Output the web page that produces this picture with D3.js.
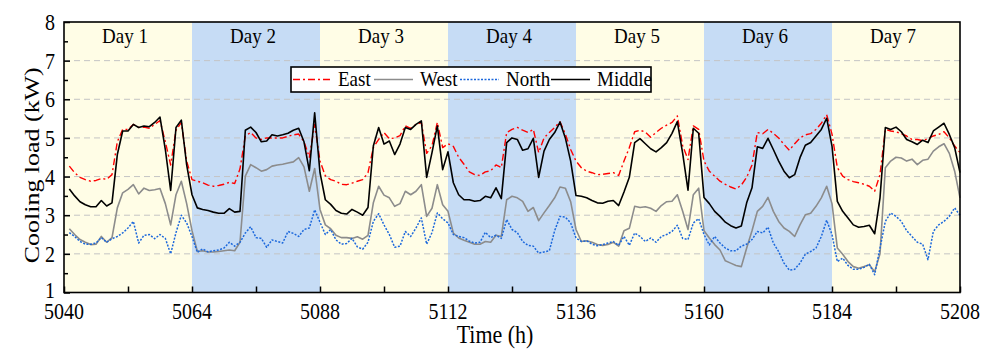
<!DOCTYPE html>
<html>
<head>
<meta charset="utf-8">
<script src="https://cdn.jsdelivr.net/npm/d3@7"></script>
<style>
  body { margin: 0; background: #fff; }
  svg text { fill: #000; }
</style>
</head>
<body>
<figure id="chart" style="margin:0"></figure>
<script>
// hourly cooling load, 5041 .. 5208 (h)
const east = [
  4.27,4.10,3.98,3.92,3.88,3.90,3.95,3.93,4.05,4.90,5.22,5.22,
  5.35,5.27,5.28,5.25,5.35,5.45,4.90,4.30,5.20,5.40,4.40,3.92,
  3.88,3.84,3.78,3.75,3.77,3.80,3.85,3.82,4.20,5.05,5.14,5.00,
  4.96,5.00,5.00,5.00,5.00,5.04,5.08,5.10,4.90,4.50,5.35,4.40,
  4.02,3.92,3.88,3.80,3.79,3.83,3.88,3.92,4.10,4.75,4.96,5.14,
  4.98,5.00,5.06,5.31,5.25,5.35,5.40,4.60,4.80,5.40,4.75,4.85,
  4.78,4.50,4.32,4.12,4.05,4.03,4.12,4.15,4.30,4.23,5.14,5.22,
  5.27,5.20,5.14,5.22,4.62,5.00,5.14,5.27,5.42,5.10,4.70,4.40,
  4.23,4.14,4.10,4.05,4.06,4.08,4.10,4.03,4.40,4.75,5.16,5.20,
  5.15,5.02,5.14,5.25,5.33,5.40,5.57,4.80,4.44,5.31,5.22,4.40,
  4.14,4.01,3.88,3.80,3.73,3.68,3.78,3.98,4.30,5.14,5.11,5.22,
  5.12,5.00,4.83,4.68,4.85,5.00,5.08,5.11,5.22,5.38,5.60,5.10,
  4.23,4.01,3.92,3.87,3.84,3.80,3.75,3.62,4.05,5.22,5.18,5.16,
  5.11,5.05,4.96,4.96,4.93,4.98,5.05,5.09,5.16,5.00,4.79,4.62
];
const west = [
  2.65,2.50,2.37,2.30,2.24,2.25,2.45,2.30,2.42,3.19,3.58,3.67,
  3.79,3.55,3.70,3.64,3.66,3.69,3.30,2.75,3.53,3.88,3.30,2.60,
  2.06,2.08,2.05,2.05,2.06,2.08,2.10,2.08,2.30,4.01,4.31,4.23,
  4.14,4.18,4.27,4.30,4.32,4.35,4.38,4.49,4.25,3.62,4.21,3.15,
  2.75,2.65,2.48,2.42,2.42,2.40,2.44,2.38,2.48,3.32,3.75,3.52,
  3.45,3.23,3.30,3.62,3.53,3.62,3.79,2.97,3.18,3.79,3.27,3.10,
  2.54,2.41,2.35,2.30,2.25,2.25,2.32,2.30,2.48,2.45,3.40,3.49,
  3.45,3.36,3.10,3.20,2.86,3.06,3.25,3.45,3.73,3.70,3.35,2.63,
  2.32,2.34,2.30,2.24,2.22,2.24,2.30,2.20,2.60,2.66,3.23,3.20,
  3.22,3.18,3.10,3.25,3.35,3.36,3.53,3.10,2.63,3.53,3.70,2.60,
  2.41,2.24,2.10,1.82,1.76,1.70,1.67,2.15,2.60,3.10,3.23,3.46,
  3.10,2.84,2.67,2.58,2.45,2.75,3.01,3.05,3.23,3.45,3.75,3.30,
  2.15,1.99,1.80,1.67,1.63,1.67,1.72,1.54,2.00,4.23,4.40,4.50,
  4.48,4.40,4.45,4.31,4.42,4.45,4.66,4.77,4.85,4.60,4.14,3.45
];
const north = [
  2.55,2.45,2.32,2.25,2.25,2.28,2.42,2.30,2.39,2.45,2.54,2.67,
  2.84,2.28,2.48,2.50,2.39,2.50,2.40,2.00,2.55,3.00,2.80,2.45,
  2.04,2.13,2.05,2.08,2.10,2.15,2.30,2.20,2.30,2.54,2.70,2.42,
  2.40,2.17,2.36,2.32,2.28,2.58,2.53,2.45,2.63,2.67,3.14,2.82,
  2.50,2.63,2.36,2.25,2.27,2.40,2.18,2.12,2.30,2.84,3.04,2.75,
  2.50,2.17,2.20,2.58,2.45,2.67,2.93,2.25,2.55,3.06,2.91,2.80,
  2.50,2.45,2.42,2.33,2.28,2.30,2.56,2.42,2.48,2.40,2.89,2.63,
  2.55,2.32,2.22,2.20,2.02,2.05,2.08,2.60,2.97,2.95,2.80,2.41,
  2.32,2.34,2.25,2.21,2.24,2.28,2.32,2.22,2.45,2.22,2.54,2.45,
  2.32,2.41,2.30,2.45,2.50,2.58,2.74,2.40,2.37,2.80,2.91,2.50,
  2.23,2.45,2.28,2.15,2.08,2.08,2.20,2.25,2.37,2.58,2.54,2.69,
  2.28,2.06,1.76,1.58,1.60,1.76,1.99,2.06,2.15,2.45,2.87,2.50,
  1.80,1.89,1.70,1.60,1.60,1.65,1.73,1.46,2.15,2.84,3.06,2.97,
  2.84,2.60,2.45,2.30,2.25,1.85,2.58,2.75,2.84,2.97,3.19,3.00
];
const middle = [
  3.68,3.50,3.35,3.27,3.22,3.22,3.38,3.24,3.32,4.57,5.18,5.18,
  5.35,5.27,5.31,5.29,5.40,5.54,4.70,3.64,5.27,5.46,4.30,3.53,
  3.19,3.15,3.12,3.08,3.05,3.05,3.17,3.08,3.10,5.20,5.28,5.14,
  4.90,4.92,5.08,5.05,5.08,5.12,5.20,5.25,4.90,4.15,5.65,4.10,
  3.40,3.28,3.12,3.05,3.03,3.15,3.08,3.00,3.20,4.79,5.27,4.84,
  4.92,4.57,4.84,5.27,5.22,5.35,5.44,3.98,4.62,5.31,4.18,4.64,
  3.84,3.53,3.40,3.40,3.36,3.38,3.49,3.45,3.71,3.43,4.88,5.00,
  4.96,4.68,4.72,4.99,3.98,4.66,4.96,5.14,5.41,5.00,4.40,3.51,
  3.49,3.45,3.38,3.32,3.31,3.36,3.38,3.25,3.60,3.98,4.88,4.98,
  4.85,4.72,4.64,4.75,4.88,5.12,5.42,4.60,3.65,5.25,5.12,3.46,
  3.30,3.10,2.97,2.82,2.73,2.67,2.72,3.32,3.71,4.77,4.73,4.99,
  4.70,4.40,4.14,3.97,4.05,4.49,4.81,4.88,5.05,5.22,5.51,4.79,
  3.36,3.10,2.93,2.75,2.69,2.71,2.74,2.52,3.45,5.27,5.22,5.28,
  5.16,4.96,4.90,4.83,4.94,4.88,5.18,5.28,5.38,5.09,4.75,4.10
];
const hours = d3.range(5041, 5209);
const days = ["Day 1", "Day 2", "Day 3", "Day 4", "Day 5", "Day 6", "Day 7"];
const xTicks = [5040, 5064, 5088, 5112, 5136, 5160, 5184, 5208];
const yTicks = [1, 2, 3, 4, 5, 6, 7, 8];
const seriesNames = ["East", "West", "North", "Middle"];

const W = 982, H = 349;
const margin = { left: 64, right: 22, top: 22, bottom: 56.5 };
const width = W - margin.left - margin.right;
const height = H - margin.top - margin.bottom;
const serif = '"Liberation Serif", "Times New Roman", "DejaVu Serif", serif';

const svg = d3.select("figure#chart")
  .append("svg")
  .attr("width", W)
  .attr("height", H);

const g = svg.append("g")
  .attr("transform", "translate(" + margin.left + "," + margin.top + ")");

const x = d3.scaleLinear().domain([5040, 5208]).range([0, width]);
const y = d3.scaleLinear().domain([1, 8]).range([height, 0]);

// day bands
g.selectAll(".band")
  .data(days)
  .enter()
  .append("rect")
  .attr("x", (d, i) => x(5040 + i * 24))
  .attr("y", 0)
  .attr("width", x(5064) - x(5040))
  .attr("height", height)
  .attr("fill", (d, i) => i % 2 ? "#c6dcf5" : "#fffde6");

// grid
g.selectAll(".grid")
  .data(yTicks.slice(1, -1))
  .enter()
  .append("line")
  .attr("x1", 0).attr("x2", width)
  .attr("y1", d => y(d)).attr("y2", d => y(d))
  .attr("stroke", "#c4c4c4")
  .attr("stroke-width", 1)
  .attr("stroke-dasharray", "6,4");

// day labels
g.selectAll(".dayText")
  .data(days)
  .enter()
  .append("text")
  .attr("transform", (d, i) => "translate(" + (x(5040 + i * 24 + 12) - 3) + ",21)scale(1,1.1)")
  .attr("text-anchor", "middle")
  .attr("fill", "#000")
  .style("font-family", serif)
  .style("font-size", "19px")
  .text(d => d);

// lines
const styles = [
  { data: east, color: "#ff0000", dash: "7,3,2,3", w: 1.4 },
  { data: west, color: "#8c8c8c", dash: null, w: 1.6 },
  { data: north, color: "#1c68dc", dash: "2,1.5", w: 1.5 },
  { data: middle, color: "#000000", dash: null, w: 1.6 }
];

const line = d3.line()
  .x((d, i) => x(hours[i]))
  .y(d => y(d));

styles.forEach(s => {
  g.append("path")
    .datum(s.data)
    .attr("fill", "none")
    .attr("stroke", s.color)
    .attr("stroke-width", s.w)
    .attr("stroke-dasharray", s.dash)
    .attr("stroke-linejoin", "round")
    .attr("d", line);
});

// axes, ticks pointing inward
const xAxis = g.append("g")
  .attr("transform", "translate(0," + height + ")")
  .call(d3.axisBottom(x).tickValues(d3.range(5040, 5209, 12)).tickSize(-6).tickFormat(""));
xAxis.select(".domain").remove();
xAxis.selectAll("line").attr("stroke", "#000").attr("stroke-width", 1.5);

xAxis.selectAll(".xLabel")
  .data(xTicks)
  .enter()
  .append("text")
  .attr("transform", d => "translate(" + x(d) + ",26)scale(1,1.18)")
  .attr("text-anchor", "middle")
  .attr("fill", "#000")
  .style("font-family", serif)
  .style("font-size", "20px")
  .text(d => d);

const yAxis = g.append("g")
  .call(d3.axisLeft(y).tickValues(d3.range(1, 8.01, 0.5)).tickSize(-6).tickFormat(""));
yAxis.select(".domain").remove();
yAxis.selectAll(".tick line")
  .attr("stroke", "#000")
  .attr("stroke-width", 1.5)
  .attr("x2", d => Number.isInteger(d) ? 6 : 4);

yAxis.selectAll(".yLabel")
  .data(yTicks)
  .enter()
  .append("text")
  .attr("transform", d => "translate(-9," + (y(d) - (d === 1 ? 3 : 0)) + ")scale(1,1.18)")
  .attr("dy", "0.34em")
  .attr("text-anchor", "end")
  .attr("fill", "#000")
  .style("font-family", serif)
  .style("font-size", "20px")
  .text(d => d);

// frame
g.append("rect")
  .attr("width", width)
  .attr("height", height)
  .attr("fill", "none")
  .attr("stroke", "#000")
  .attr("stroke-width", 1.6);

// legend
const legend = g.append("g").attr("transform", "translate(227,45)");
legend.append("rect")
  .attr("width", 360)
  .attr("height", 25)
  .attr("fill", "#fff")
  .attr("stroke", "#000")
  .attr("stroke-width", 1.6);

const legendX = [2, 83, 169, 260];
const sampleW = [38, 39, 39, 39];
styles.forEach((s, i) => {
  legend.append("line")
    .attr("x1", legendX[i]).attr("x2", legendX[i] + sampleW[i])
    .attr("y1", 12.5).attr("y2", 12.5)
    .attr("stroke", s.color)
    .attr("stroke-width", s.w)
    .attr("stroke-dasharray", s.dash);
  legend.append("text")
    .attr("transform", "translate(" + (legendX[i] + sampleW[i] + 7) + ",19)scale(1,1.08)")
    .attr("fill", "#000")
    .style("font-family", serif)
    .style("font-size", "19px")
    .text(seriesNames[i]);
});

// axis titles
g.append("text")
  .attr("transform", "translate(" + (width / 2 - 17) + "," + (height + 50) + ")scale(1,1.18)")
  .attr("text-anchor", "middle")
  .attr("fill", "#000")
  .style("font-family", serif)
  .style("font-size", "22px")
  .text("Time (h)");

g.append("text")
  .attr("transform", "translate(" + (-25) + "," + (height / 2 + 8) + ")rotate(-90)scale(1.18,1)")
  .attr("text-anchor", "middle")
  .attr("fill", "#000")
  .style("font-family", serif)
  .style("font-size", "22px")
  .text("Cooling load (kW)");
</script>
</body>
</html>
